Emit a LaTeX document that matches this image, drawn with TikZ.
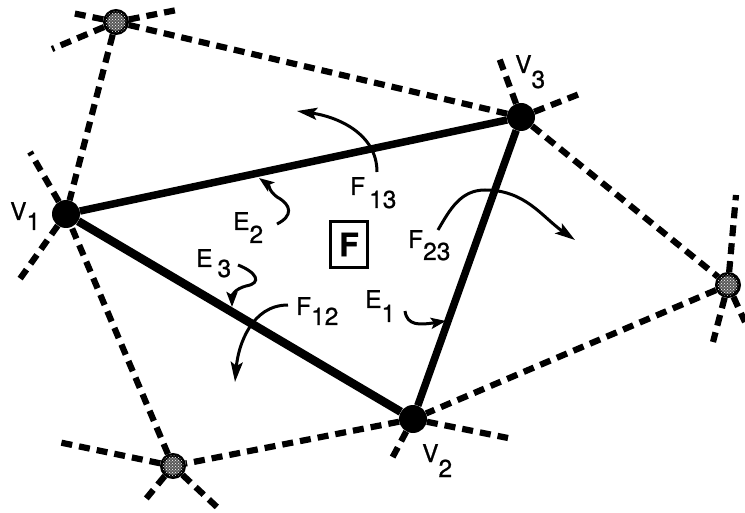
\documentclass[tikz,border=0pt]{standalone}
\usepackage{fontspec}
\setmainfont[FakeBold=0.9]{TeX Gyre Heros}
\usetikzlibrary{arrows.meta,patterns}
\newcommand\sbs[2][12pt]{\raisebox{-#1}{#2}}
\begin{document}
\begin{tikzpicture}[x=1pt,y=-1pt,
  dsh/.style={line width=6.2pt, dash pattern=on 11pt off 7pt},
  edgeline/.style={line width=7.5pt},
  vert/.style={circle, fill=black, minimum size=28pt, inner sep=0pt},
  gnode/.style={circle, draw=black, line width=4pt, fill=black!65, minimum size=22pt, inner sep=0pt,
     postaction={pattern=crosshatch dots, pattern color=white}},
  flow/.style={line width=3pt, -{Stealth[length=20pt,width=12pt,inset=4pt]}},
  sq/.style={line width=3pt, -{Stealth[length=15pt,width=11pt,inset=3pt]}},
  lab/.style={anchor=base west, inner sep=0pt, font=\fontsize{24.5}{28}\selectfont}
]
\useasboundingbox (0,0) rectangle (745,513);

% vertices
\node[vert] (v1) at (66,214) {};
\node[vert] (v3) at (521,117) {};
\node[vert] (v2) at (413,419) {};
\node[gnode] (g1) at (116,22) {};
\node[gnode] (g2) at (728,285) {};
\node[gnode] (g3) at (173,466) {};

% stub ends
\coordinate (a1) at (72,13);
\coordinate (a2) at (177,10);
\coordinate (a3) at (52,49);
\coordinate (b1) at (498,55);
\coordinate (b2) at (582,93);
\coordinate (c1) at (30,152);
\coordinate (c2) at (17,283);
\coordinate (d1) at (390,462);
\coordinate (d2) at (508,438);
\coordinate (e1) at (736,195);
\coordinate (e2) at (713,342);
\coordinate (e3) at (745,322);
\coordinate (f1) at (58,442);
\coordinate (f2) at (145,500);
\coordinate (f3) at (218,508);

% dashed connections
\draw[dsh] (g1) -- (v3);
\draw[dsh] (g1) -- (v1);
\draw[dsh] (v3) -- (g2);
\draw[dsh] (g2) -- (v2);
\draw[dsh] (v2) -- (g3);
\draw[dsh] (g3) -- (v1);
% stubs
\draw[dsh] (g1) -- (a1);
\draw[dsh] (g1) -- (a2);
\draw[dsh] (g1) -- (a3);
\draw[dsh] (v3) -- (b1);
\draw[dsh] (v3) -- (b2);
\draw[dsh] (v1) -- (c1);
\draw[dsh] (v1) -- (c2);
\draw[dsh] (v2) -- (d1);
\draw[dsh] (v2) -- (d2);
\draw[dsh] (g2) -- (e1);
\draw[dsh] (g2) -- (e2);
\draw[dsh] (g2) -- (e3);
\draw[dsh] (g3) -- (f1);
\draw[dsh] (g3) -- (f2);
\draw[dsh] (g3) -- (f3);

% triangle
\draw[edgeline] (v1) -- (v3);
\draw[edgeline] (v3) -- (v2);
\draw[edgeline, line width=8.5pt] (v2) -- (v1);

% face box
\node[draw, line width=3.2pt, minimum width=37pt, minimum height=46pt, inner sep=0pt,
      font=\fontsize{32}{36}\selectfont\bfseries] (fbox) at (349,244.5) {F};

% flow arrows
\coordinate (p13s) at (377,172);
\coordinate (p13e) at (297,111);
\draw[flow] (p13s) to[out=90,in=-8] (p13e);
\coordinate (p23s) at (438,230);
\coordinate (p23m) at (485,190);
\coordinate (p23e) at (575,240);
\draw[flow] (p23s) to[out=60,in=180] (p23m) to[out=0,in=145] (p23e);
\coordinate (p12s) at (288,305);
\coordinate (p12e) at (235,382);
\draw[flow] (p12s) to[out=180,in=85] (p12e);

% squiggles
\coordinate (q2s) at (277,224);
\coordinate (q2m) at (277,197);
\coordinate (q2e) at (259,178);
\draw[sq] (q2s) .. controls (293,216) and (292,205) .. (q2m) .. controls (268,190) and (270,186) .. (q2e);
\coordinate (q3s) at (238,265);
\coordinate (q3m) at (246,286);
\coordinate (q3e) at (232,307);
\draw[sq] (q3s) .. controls (256,272) and (263,283) .. (q3m) .. controls (235,289) and (232,295) .. (q3e);
\coordinate (q1s) at (405,311);
\coordinate (q1e) at (446,321);
\draw[sq] (q1s) .. controls (407,326) and (420,325) .. (q1e);

% labels
\node[lab] (lv1) at (10,220) {V\sbs[10pt]{1}};
\node[lab] (lv3) at (515,73) {V\sbs[15pt]{3}};
\node[lab] (lv2) at (422,462) {V\sbs[15pt]{2}};
\node[lab] (le2) at (233,230) {E\sbs[13pt]{2}};
\node[lab] (le3) at (196,267) {E\hspace{5pt}\sbs[10pt]{3}};
\node[lab] (lf12) at (296,315) {F\sbs[10pt]{12}};
\node[lab] (le1) at (365,308) {E\sbs[14pt]{1}};
\node[lab] (lf23) at (408,248) {F\sbs[12pt]{23}};
\node[lab] (lf13) at (350,195) {F\hspace{4pt}\sbs[13pt]{13}};
\end{tikzpicture}
\end{document}
